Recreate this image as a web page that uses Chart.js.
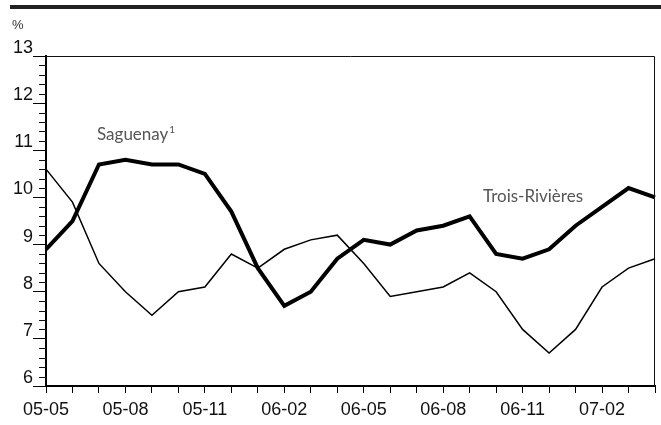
<!DOCTYPE html>
<html>
<head>
<meta charset="utf-8">
<script src="https://cdn.jsdelivr.net/npm/chart.js@4/dist/chart.umd.min.js"></script>
<style>
  html, body { margin: 0; padding: 0; background: #fff; }
  #wrap { position: relative; width: 661px; height: 425px; }
</style>
</head>
<body>
<div id="wrap"><canvas id="chart" width="661" height="425"></canvas></div>
<script>
// monthly, 05-05 to 07-04
const months = ['05-05','05-06','05-07','05-08','05-09','05-10','05-11','05-12',
  '06-01','06-02','06-03','06-04','06-05','06-06','06-07','06-08','06-09','06-10',
  '06-11','06-12','07-01','07-02','07-03','07-04'];

const saguenay = [8.9, 9.5, 10.7, 10.8, 10.7, 10.7, 10.5, 9.7, 8.5, 7.7, 8.0, 8.7,
  9.1, 9.0, 9.3, 9.4, 9.6, 8.8, 8.7, 8.9, 9.4, 9.8, 10.2, 10.0];

const troisRivieres = [10.6, 9.9, 8.6, 8.0, 7.5, 8.0, 8.1, 8.8, 8.5, 8.9, 9.1, 9.2,
  8.6, 7.9, 8.0, 8.1, 8.4, 8.0, 7.2, 6.7, 7.2, 8.1, 8.5, 8.7];

const yTicks = [6, 7, 8, 9, 10, 11, 12, 13];

const nameFont = '17px Lato, "Noto Sans", sans-serif';

// frame, top bar, unit, minor ticks and series names
const decor = {
  id: 'decor',
  beforeDraw(chart) {
    const c = chart.ctx;
    c.save();
    c.fillStyle = '#222';
    c.fillRect(10, 5, 651, 4);
    c.fillStyle = '#333';
    c.font = '13px "Liberation Sans", Arial, sans-serif';
    c.textBaseline = 'alphabetic';
    c.fillText('%', 12, 29);
    c.restore();
  },
  afterDraw(chart) {
    const c = chart.ctx;
    const a = chart.chartArea;
    const y = chart.scales.y;
    c.save();
    c.strokeStyle = '#111';
    c.lineWidth = 1;
    c.beginPath();
    c.moveTo(a.left, a.top + 0.5);
    c.lineTo(a.right - 0.5, a.top + 0.5);
    c.lineTo(a.right - 0.5, a.bottom);
    c.stroke();
    // minor ticks every 0.2
    c.beginPath();
    for (let v = 6; v < 13; v += 1) {
      for (let k = 1; k < 5; k++) {
        const py = Math.round(y.getPixelForValue(v + k * 0.2)) + 0.5;
        c.moveTo(a.left - 7, py);
        c.lineTo(a.left, py);
      }
    }
    c.stroke();
    // series names
    c.fillStyle = '#555';
    c.font = nameFont;
    c.textBaseline = 'middle';
    c.fillText('Saguenay', 97, 135);
    const w = c.measureText('Saguenay').width;
    c.font = '10px Lato, "Noto Sans", sans-serif';
    c.fillText('1', 97 + w + 1, 130);
    c.font = nameFont;
    c.fillText('Trois-Rivières', 483, 197);
    c.restore();
  }
};

new Chart(document.getElementById('chart'), {
  type: 'line',
  data: {
    labels: months,
    datasets: [{
      label: 'Saguenay',
      data: saguenay,
      borderColor: '#000',
      borderWidth: 4,
      pointRadius: 0,
      tension: 0,
      borderJoinStyle: 'miter'
    }, {
      label: 'Trois-Rivières',
      data: troisRivieres,
      borderColor: '#000',
      borderWidth: 1.5,
      pointRadius: 0,
      tension: 0
    }]
  },
  options: {
    responsive: false,
    animation: false,
    layout: { padding: { top: 56, right: 6, left: 0, bottom: 0 } },
    plugins: {
      legend: { display: false },
      tooltip: { enabled: false }
    },
    scales: {
      x: {
        type: 'category',
        offset: false,
        border: { color: '#000', width: 2 },
        grid: { drawOnChartArea: false, tickLength: 7, color: '#000', tickWidth: 1 },
        ticks: {
          autoSkip: false,
          maxRotation: 0,
          color: '#111',
          font: { family: '"Liberation Sans", Arial, sans-serif', size: 18 },
          padding: 6,
          callback: (v, i) => (i % 3 === 0 ? months[i] : '')
        },
        afterFit(s) { s.height = 39; }
      },
      y: {
        min: 6,
        max: 13,
        border: { color: '#000', width: 2 },
        grid: { drawOnChartArea: false, tickLength: 13, color: '#000', tickWidth: 1 },
        afterBuildTicks(s) { s.ticks = yTicks.map(v => ({ value: v })); },
        ticks: {
          color: '#111',
          font: { family: '"Liberation Sans", Arial, sans-serif', size: 18 },
          padding: 0,
          labelOffset: -8,
          callback: v => String(v)
        },
        afterFit(s) { s.width = 46; }
      }
    }
  },
  plugins: [decor]
});
</script>
</body>
</html>
